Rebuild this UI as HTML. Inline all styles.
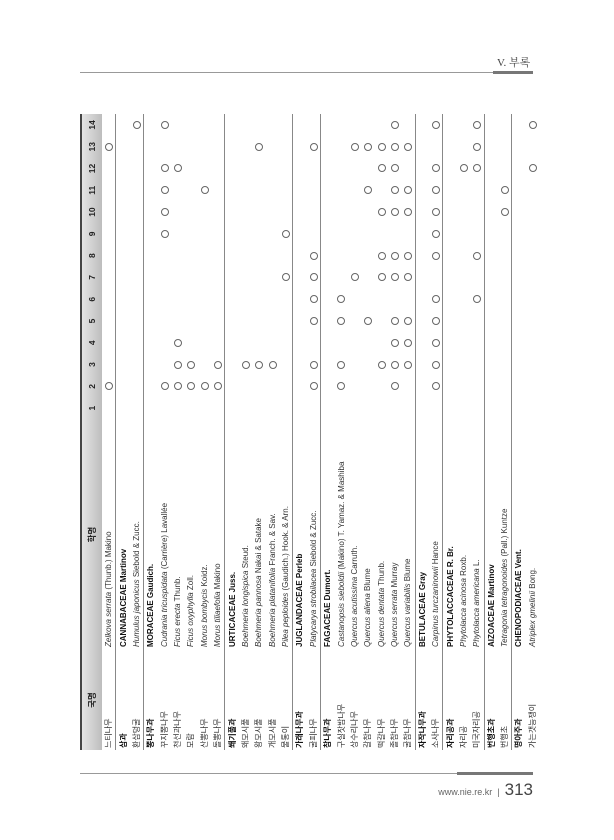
<!DOCTYPE html>
<html><head><meta charset="utf-8">
<style>
html,body{margin:0;padding:0;background:#fff;}
body{width:614px;height:840px;position:relative;overflow:hidden;font-family:"Liberation Sans","Noto Sans CJK KR",sans-serif;color:#333;}
.hdr{position:absolute;left:497px;top:54px;font-family:"Liberation Serif","Noto Serif CJK SC",serif;font-size:11px;color:#444;}
.hl{position:absolute;left:80px;top:72px;width:413px;height:1px;background:#999;}
.hl2{position:absolute;left:493px;top:71px;width:40px;height:3px;background:#777;}
.fl{position:absolute;left:80px;top:773px;width:377px;height:1px;background:#999;}
.fl2{position:absolute;left:457px;top:772px;width:76px;height:3px;background:#777;}
.ft{position:absolute;right:81px;top:780px;font-size:9px;color:#666;white-space:nowrap;}
.ft b{font-weight:normal;font-size:17px;color:#444;}
.rot{position:absolute;left:80px;top:750px;width:636px;height:448px;transform-origin:0 0;transform:rotate(-90deg);}
table{border-collapse:collapse;table-layout:fixed;width:636px;font-size:8px;}
td{padding:0;height:13.375px;line-height:13px;white-space:nowrap;overflow:visible;text-align:center;}
td.k{text-align:left;padding-left:2px;}
td.s{text-align:left;padding-left:3px;}
td.s i{font-style:italic;}
tr.h td{height:20px;background:linear-gradient(#e4e4e4,#bdbdbd);border-top:2px solid #444;font-weight:bold;font-size:8.5px;color:#222;}
tr.f td{border-top:1px solid #888;}
tr.f td.k,tr.f td.s{font-weight:bold;color:#111;}
.c{display:inline-block;width:6px;height:6px;border:1px solid #666;border-radius:50%;vertical-align:middle;}
</style></head><body>
<div class="hdr">V. 부록</div>
<div class="hl"></div><div class="hl2"></div>
<div class="rot">
<table>
<colgroup><col style="width:100px"><col style="width:231px"><col span="14" style="width:21.79px"></colgroup>
<tr class="h"><td>국명</td><td>학명</td><td>1</td><td>2</td><td>3</td><td>4</td><td>5</td><td>6</td><td>7</td><td>8</td><td>9</td><td>10</td><td>11</td><td>12</td><td>13</td><td>14</td></tr>
<tr><td class="k">느티나무</td><td class="s"><i>Zelkova serrata</i> (Thunb.) Makino</td><td></td><td><span class="c"></span></td><td></td><td></td><td></td><td></td><td></td><td></td><td></td><td></td><td></td><td></td><td><span class="c"></span></td><td></td></tr>
<tr class="f"><td class="k">삼과</td><td class="s">CANNABACEAE Martinov</td><td></td><td></td><td></td><td></td><td></td><td></td><td></td><td></td><td></td><td></td><td></td><td></td><td></td><td></td></tr>
<tr><td class="k">환삼덩굴</td><td class="s"><i>Humulus japonicus</i> Siebold &amp; Zucc.</td><td></td><td></td><td></td><td></td><td></td><td></td><td></td><td></td><td></td><td></td><td></td><td></td><td></td><td><span class="c"></span></td></tr>
<tr class="f"><td class="k">뽕나무과</td><td class="s">MORACEAE Gaudich.</td><td></td><td></td><td></td><td></td><td></td><td></td><td></td><td></td><td></td><td></td><td></td><td></td><td></td><td></td></tr>
<tr><td class="k">꾸지뽕나무</td><td class="s"><i>Cudrania tricuspidata</i> (Carrière) Lavallée</td><td></td><td><span class="c"></span></td><td></td><td></td><td></td><td></td><td></td><td></td><td><span class="c"></span></td><td><span class="c"></span></td><td><span class="c"></span></td><td><span class="c"></span></td><td></td><td><span class="c"></span></td></tr>
<tr><td class="k">천선과나무</td><td class="s"><i>Ficus erecta</i> Thunb.</td><td></td><td><span class="c"></span></td><td><span class="c"></span></td><td><span class="c"></span></td><td></td><td></td><td></td><td></td><td></td><td></td><td></td><td><span class="c"></span></td><td></td><td></td></tr>
<tr><td class="k">모람</td><td class="s"><i>Ficus oxyphylla</i> Zoll.</td><td></td><td><span class="c"></span></td><td><span class="c"></span></td><td></td><td></td><td></td><td></td><td></td><td></td><td></td><td></td><td></td><td></td><td></td></tr>
<tr><td class="k">산뽕나무</td><td class="s"><i>Morus bombycis</i> Koidz.</td><td></td><td><span class="c"></span></td><td></td><td></td><td></td><td></td><td></td><td></td><td></td><td></td><td><span class="c"></span></td><td></td><td></td><td></td></tr>
<tr><td class="k">돌뽕나무</td><td class="s"><i>Morus tiliaefolia</i> Makino</td><td></td><td><span class="c"></span></td><td><span class="c"></span></td><td></td><td></td><td></td><td></td><td></td><td></td><td></td><td></td><td></td><td></td><td></td></tr>
<tr class="f"><td class="k">쐐기풀과</td><td class="s">URTICACEAE Juss.</td><td></td><td></td><td></td><td></td><td></td><td></td><td></td><td></td><td></td><td></td><td></td><td></td><td></td><td></td></tr>
<tr><td class="k">왜모시풀</td><td class="s"><i>Boehmeria longispica</i> Steud.</td><td></td><td></td><td><span class="c"></span></td><td></td><td></td><td></td><td></td><td></td><td></td><td></td><td></td><td></td><td></td><td></td></tr>
<tr><td class="k">왕모시풀</td><td class="s"><i>Boehmeria pannosa</i> Nakai &amp; Satake</td><td></td><td></td><td><span class="c"></span></td><td></td><td></td><td></td><td></td><td></td><td></td><td></td><td></td><td></td><td><span class="c"></span></td><td></td></tr>
<tr><td class="k">개모시풀</td><td class="s"><i>Boehmeria platanifolia</i> Franch. &amp; Sav.</td><td></td><td></td><td><span class="c"></span></td><td></td><td></td><td></td><td></td><td></td><td></td><td></td><td></td><td></td><td></td><td></td></tr>
<tr><td class="k">물통이</td><td class="s"><i>Pilea peploides</i> (Gaudich.) Hook. &amp; Arn.</td><td></td><td></td><td></td><td></td><td></td><td></td><td><span class="c"></span></td><td></td><td><span class="c"></span></td><td></td><td></td><td></td><td></td><td></td></tr>
<tr class="f"><td class="k">가래나무과</td><td class="s">JUGLANDACEAE Perleb</td><td></td><td></td><td></td><td></td><td></td><td></td><td></td><td></td><td></td><td></td><td></td><td></td><td></td><td></td></tr>
<tr><td class="k">굴피나무</td><td class="s"><i>Platycarya strobilacea</i> Siebold &amp; Zucc.</td><td></td><td><span class="c"></span></td><td><span class="c"></span></td><td></td><td><span class="c"></span></td><td><span class="c"></span></td><td><span class="c"></span></td><td><span class="c"></span></td><td></td><td></td><td></td><td></td><td><span class="c"></span></td><td></td></tr>
<tr class="f"><td class="k">참나무과</td><td class="s">FAGACEAE Dumort.</td><td></td><td></td><td></td><td></td><td></td><td></td><td></td><td></td><td></td><td></td><td></td><td></td><td></td><td></td></tr>
<tr><td class="k">구실잣밤나무</td><td class="s"><i>Castanopsis sieboldii</i> (Makino) T. Yamaz. &amp; Mashiba</td><td></td><td><span class="c"></span></td><td><span class="c"></span></td><td></td><td><span class="c"></span></td><td><span class="c"></span></td><td></td><td></td><td></td><td></td><td></td><td></td><td></td><td></td></tr>
<tr><td class="k">상수리나무</td><td class="s"><i>Quercus acutissima</i> Carruth.</td><td></td><td></td><td></td><td></td><td></td><td></td><td><span class="c"></span></td><td></td><td></td><td></td><td></td><td></td><td><span class="c"></span></td><td></td></tr>
<tr><td class="k">갈참나무</td><td class="s"><i>Quercus aliena</i> Blume</td><td></td><td></td><td></td><td></td><td><span class="c"></span></td><td></td><td></td><td></td><td></td><td></td><td><span class="c"></span></td><td></td><td><span class="c"></span></td><td></td></tr>
<tr><td class="k">떡갈나무</td><td class="s"><i>Quercus dentata</i> Thunb.</td><td></td><td></td><td><span class="c"></span></td><td></td><td></td><td></td><td><span class="c"></span></td><td><span class="c"></span></td><td></td><td><span class="c"></span></td><td></td><td><span class="c"></span></td><td><span class="c"></span></td><td></td></tr>
<tr><td class="k">졸참나무</td><td class="s"><i>Quercus serrata</i> Murray</td><td></td><td><span class="c"></span></td><td><span class="c"></span></td><td><span class="c"></span></td><td><span class="c"></span></td><td></td><td><span class="c"></span></td><td><span class="c"></span></td><td></td><td><span class="c"></span></td><td><span class="c"></span></td><td><span class="c"></span></td><td><span class="c"></span></td><td><span class="c"></span></td></tr>
<tr><td class="k">굴참나무</td><td class="s"><i>Quercus variabilis</i> Blume</td><td></td><td></td><td><span class="c"></span></td><td><span class="c"></span></td><td><span class="c"></span></td><td></td><td><span class="c"></span></td><td><span class="c"></span></td><td></td><td><span class="c"></span></td><td><span class="c"></span></td><td></td><td><span class="c"></span></td><td></td></tr>
<tr class="f"><td class="k">자작나무과</td><td class="s">BETULACEAE Gray</td><td></td><td></td><td></td><td></td><td></td><td></td><td></td><td></td><td></td><td></td><td></td><td></td><td></td><td></td></tr>
<tr><td class="k">소사나무</td><td class="s"><i>Carpinus turczaninowii</i> Hance</td><td></td><td><span class="c"></span></td><td><span class="c"></span></td><td><span class="c"></span></td><td><span class="c"></span></td><td><span class="c"></span></td><td></td><td><span class="c"></span></td><td><span class="c"></span></td><td><span class="c"></span></td><td><span class="c"></span></td><td><span class="c"></span></td><td></td><td><span class="c"></span></td></tr>
<tr class="f"><td class="k">자리공과</td><td class="s">PHYTOLACCACEAE R. Br.</td><td></td><td></td><td></td><td></td><td></td><td></td><td></td><td></td><td></td><td></td><td></td><td></td><td></td><td></td></tr>
<tr><td class="k">자리공</td><td class="s"><i>Phytolacca acinosa</i> Roxb.</td><td></td><td></td><td></td><td></td><td></td><td></td><td></td><td></td><td></td><td></td><td></td><td><span class="c"></span></td><td></td><td></td></tr>
<tr><td class="k">미국자리공</td><td class="s"><i>Phytolacca americana</i> L.</td><td></td><td></td><td></td><td></td><td></td><td><span class="c"></span></td><td></td><td><span class="c"></span></td><td></td><td></td><td></td><td><span class="c"></span></td><td><span class="c"></span></td><td><span class="c"></span></td></tr>
<tr class="f"><td class="k">번행초과</td><td class="s">AIZOACEAE Martinov</td><td></td><td></td><td></td><td></td><td></td><td></td><td></td><td></td><td></td><td></td><td></td><td></td><td></td><td></td></tr>
<tr><td class="k">번행초</td><td class="s"><i>Tetragonia tetragonoides</i> (Pall.) Kuntze</td><td></td><td></td><td></td><td></td><td></td><td></td><td></td><td></td><td></td><td><span class="c"></span></td><td><span class="c"></span></td><td></td><td></td><td></td></tr>
<tr class="f"><td class="k">명아주과</td><td class="s">CHENOPODIACEAE Vent.</td><td></td><td></td><td></td><td></td><td></td><td></td><td></td><td></td><td></td><td></td><td></td><td></td><td></td><td></td></tr>
<tr><td class="k">가는갯능쟁이</td><td class="s"><i>Atriplex gmelinii</i> Bong.</td><td></td><td></td><td></td><td></td><td></td><td></td><td></td><td></td><td></td><td></td><td></td><td><span class="c"></span></td><td></td><td><span class="c"></span></td></tr>
</table>
</div>
<div class="fl"></div><div class="fl2"></div>
<div class="ft">www.nie.re.kr &nbsp;|&nbsp; <b>313</b></div>
</body></html>
